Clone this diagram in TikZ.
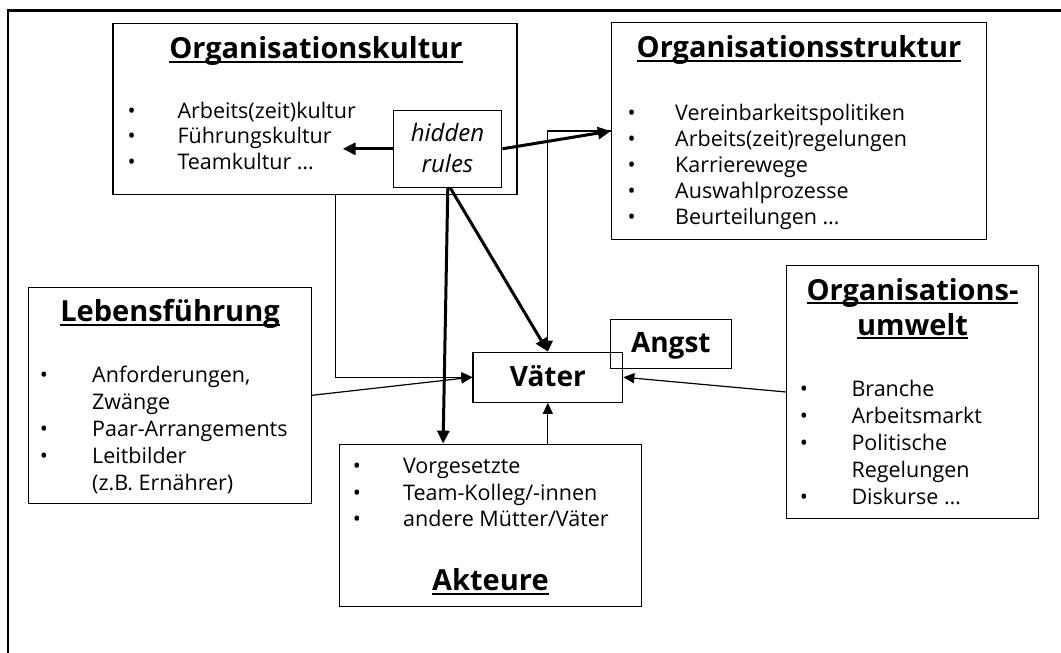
\documentclass[tikz,border=0pt]{standalone}
\usepackage{fontspec}
\setmainfont{Open Sans}
\usetikzlibrary{arrows.meta}
\newcommand\ulx[1]{\leavevmode\setbox0=\hbox{#1}\rlap{\rule[-4.4pt]{\wd0}{2pt}}\box0}
\begin{document}
\begin{tikzpicture}[x=1pt,y=-1pt,
  boxnode/.style={draw, line width=1.3pt, inner sep=0pt},
  txt/.style={inner sep=0pt, anchor=base west, font=\fontsize{21.5}{26}\selectfont},
  bul/.style={inner sep=0pt, anchor=base, font=\fontsize{21.5}{26}\selectfont},
  ttl/.style={inner sep=0pt, anchor=base, font=\fontsize{29}{34}\selectfont\bfseries},
  hid/.style={inner sep=0pt, anchor=base, font=\fontsize{24}{28}\selectfont\itshape},
  big/.style={inner sep=0pt, anchor=base, font=\fontsize{28}{32}\selectfont\bfseries},
  thickarr/.style={line width=3pt, -{Triangle[length=13pt,width=12pt]}},
  thinarr/.style={line width=1.2pt, -{Triangle[length=11pt,width=10pt]}}
]
\useasboundingbox (0,0) rectangle (1061,653);
\draw[line width=2.7pt, line join=miter] (8,653) -- (8,10.2) -- (1061,10.2);

% boxes
\node[boxnode, minimum width=404pt, minimum height=171pt] (ok) at (315,108.8) {};
\node[boxnode, minimum width=375pt, minimum height=216.6pt] (os) at (799,131) {};
\node[boxnode, minimum width=108pt, minimum height=77pt] (hr) at (447.8,148.8) {};
\node[boxnode, minimum width=282.8pt, minimum height=216pt] (lf) at (170,395.3) {};
\node[boxnode, minimum width=251.6pt, minimum height=252.6pt] (ou) at (912.5,392) {};
\node[boxnode, minimum width=302.2pt, minimum height=162.4pt] (ak) at (490.4,525.5) {};
\node[boxnode, minimum width=149.7pt, minimum height=50pt] (va) at (547.85,377.2) {};
\node[boxnode, minimum width=121.1pt, minimum height=49pt] (an) at (671,343.8) {};

% Organisationskultur
\node[ttl] (okt) at (316,58.3) {\ulx{Organisationskultur}};
\node[bul] (okb1) at (131.7,118) {•};
\node[bul] (okb2) at (131.7,143.5) {•};
\node[bul] (okb3) at (131.7,169) {•};
\node[txt] (ok1) at (177.3,118) {Arbeits(zeit)kultur};
\node[txt] (ok2) at (177.3,143.5) {Führungskultur};
\node[txt] (ok3) at (177.3,169) {Teamkultur …};

% hidden rules
\node[hid] (hr1) at (447.5,141.5) {hidden};
\node[hid] (hr2) at (447.5,172) {rules};

% Organisationsstruktur
\node[ttl] (ost) at (799,57.3) {\ulx{Organisationsstruktur}};
\foreach \y/\t [count=\i] in {120/Vereinbarkeitspolitiken,146/Arbeits(zeit)regelungen,172/Karrierewege,198/Auswahlprozesse,224/Beurteilungen …}{
  \node[bul] (osb\i) at (631.7,\y) {•};
  \node[txt] (os\i) at (675,\y) {\t};
}

% Lebensfuehrung
\node[ttl] (lft) at (170,321.7) {\ulx{Lebensführung}};
\node[bul] (lfb1) at (44,382.7) {•};
\node[bul] (lfb2) at (44,436.3) {•};
\node[bul] (lfb3) at (44,463.1) {•};
\node[txt] (lf1) at (92,382.7) {Anforderungen,};
\node[txt] (lf2) at (92,409.5) {Zwänge};
\node[txt] (lf3) at (92,436.3) {Paar-Arrangements};
\node[txt] (lf4) at (92,463.1) {Leitbilder};
\node[txt] (lf5) at (92,490) {(z.B. Ernährer)};

% Organisationsumwelt
\node[ttl] (out1) at (912.5,300) {\ulx{Organisations-}};
\node[ttl] (out2) at (912.5,335) {\ulx{umwelt}};
\node[bul] (oub1) at (804,396.7) {•};
\node[bul] (oub2) at (804,423.6) {•};
\node[bul] (oub3) at (804,450.5) {•};
\node[bul] (oub4) at (804,504.3) {•};
\node[txt] (ou1) at (851.3,396.7) {Branche};
\node[txt] (ou2) at (851.3,423.6) {Arbeitsmarkt};
\node[txt] (ou3) at (851.3,450.5) {Politische};
\node[txt] (ou4) at (851.3,477.4) {Regelungen};
\node[txt] (ou5) at (851.3,504.3) {Diskurse …};

% Akteure
\node[bul] (akb1) at (357,473.3) {•};
\node[bul] (akb2) at (357,500) {•};
\node[bul] (akb3) at (357,526.7) {•};
\node[txt] (ak1) at (402.9,473.3) {Vorgesetzte};
\node[txt] (ak2) at (402.9,500) {Team-Kolleg/-innen};
\node[txt] (ak3) at (402.9,526.7) {andere Mütter/Väter};
\node[ttl] (akt) at (490.4,590.7) {\ulx{Akteure}};

% Vaeter, Angst
\node[big] (vat) at (547.85,386.7) {Väter};
\node[big] (ant) at (670.8,352.7) {Angst};

% connectors
\coordinate (fk) at (342.7,148.8);
\draw[thinarr] ([xshift=20.7pt]ok.south) |- (va.west);
\draw[thinarr] (lf.east) -- (va.west);
\draw[thinarr] (os.west) -| (va.north);
\draw[thinarr] (ak.north -| va.south) -- (va.south);
\draw[thinarr] (ou.west) -- (va.east);
\draw[thickarr] (hr.west) -- (fk);
\draw[thickarr] (hr.east) -- (os.west);
\draw[thickarr] (hr.south) -- ([xshift=-4.7pt]hr.south |- ak.north);
\draw[thickarr] ([xshift=2.5pt]hr.south) -- (va.north);
\end{tikzpicture}
\end{document}
